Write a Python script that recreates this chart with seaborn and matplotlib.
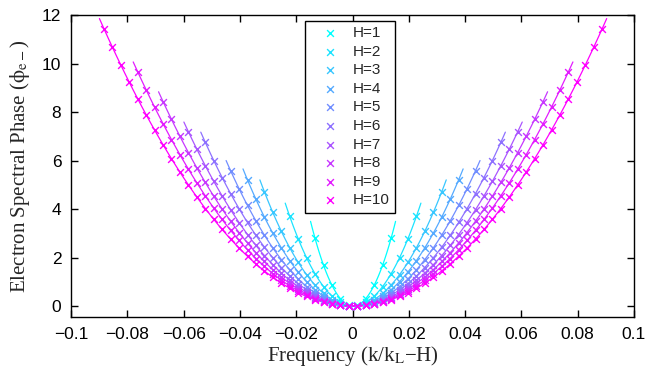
import numpy as np
import pandas as pd
import matplotlib
matplotlib.use("Agg")
import matplotlib.pyplot as plt
import seaborn as sns

# ---------------------------------------------------------------
# data
# ---------------------------------------------------------------
HARMONICS = [1, 2, 3, 4, 5, 6, 7, 8, 9, 10]

# common frequency grid (k/kL - H); every harmonic uses a centred slice of it
X_GRID = [-0.0883, -0.0853, -0.0823, -0.0793, -0.0763, -0.0733, -0.0703, -0.0673, -0.0643, -0.0613,
          -0.0583, -0.0553, -0.0523, -0.0493, -0.0463, -0.0433, -0.0403, -0.0373, -0.0343, -0.0313,
          -0.0283, -0.0253, -0.0223, -0.0193, -0.0163, -0.0133, -0.0103, -0.0073, -0.0043, -0.0013,
          0.0017, 0.0047, 0.0077, 0.0107, 0.0137, 0.0167, 0.0197, 0.0227, 0.0257, 0.0287,
          0.0317, 0.0347, 0.0377, 0.0407, 0.0437, 0.0467, 0.0497, 0.0527, 0.0557, 0.0587,
          0.0617, 0.0647, 0.0677, 0.0707, 0.0737, 0.0767, 0.0797, 0.0827, 0.0857, 0.0887]

Y_H1 = [2.79, 1.69, 0.86, 0.31, 0.03, 0.03, 0.31, 0.86, 1.69, 2.79]
Y_H2 = [3.70, 2.78, 1.99, 1.33, 0.80, 0.41, 0.15, 0.02,
        0.02, 0.15, 0.41, 0.80, 1.33, 1.99, 2.78, 3.70]
Y_H3 = [4.71, 3.86, 3.09, 2.40, 1.81, 1.29, 0.87, 0.52, 0.27, 0.10, 0.01,
        0.01, 0.10, 0.27, 0.52, 0.87, 1.29, 1.81, 2.40, 3.09, 3.86, 4.71]
Y_H4 = [5.20, 4.40, 3.67, 3.01, 2.41, 1.87, 1.41, 1.01, 0.67, 0.41, 0.21, 0.07, 0.01,
        0.01, 0.07, 0.21, 0.41, 0.67, 1.01, 1.41, 1.87, 2.41, 3.01, 3.67, 4.40, 5.20]
Y_H5 = [5.58, 4.84, 4.15, 3.51, 2.93, 2.40, 1.92, 1.49, 1.12, 0.80, 0.54, 0.33, 0.17, 0.06, 0.01,
        0.01, 0.06, 0.17, 0.33, 0.54, 0.80, 1.12, 1.49, 1.92, 2.40, 2.93, 3.51, 4.15, 4.84, 5.58]
Y_H6 = [6.75, 6.00, 5.30, 4.64, 4.02, 3.45, 2.92, 2.43, 1.99, 1.59, 1.24, 0.93, 0.67, 0.45,
        0.27, 0.14, 0.05, 0.01,
        0.01, 0.05, 0.14, 0.27, 0.45, 0.67, 0.93, 1.24, 1.59, 1.99, 2.43, 2.92, 3.45, 4.02,
        4.64, 5.30, 6.00, 6.75]
Y_H7 = [7.19, 6.47, 5.79, 5.15, 4.54, 3.97, 3.44, 2.95, 2.50, 2.08, 1.71, 1.37, 1.06, 0.80,
        0.57, 0.38, 0.23, 0.12, 0.04, 0.00,
        0.00, 0.04, 0.12, 0.23, 0.38, 0.57, 0.80, 1.06, 1.37, 1.71, 2.08, 2.50, 2.95, 3.44,
        3.97, 4.54, 5.15, 5.79, 6.47, 7.19]
Y_H8 = [8.43, 7.70, 7.00, 6.33, 5.70, 5.10, 4.53, 4.00, 3.50, 3.03, 2.60, 2.20, 1.84, 1.50,
        1.20, 0.94, 0.70, 0.50, 0.34, 0.20, 0.10, 0.04, 0.00,
        0.00, 0.04, 0.10, 0.20, 0.34, 0.50, 0.70, 0.94, 1.20, 1.50, 1.84, 2.20, 2.60, 3.03,
        3.50, 4.00, 4.53, 5.10, 5.70, 6.33, 7.00, 7.70, 8.43]
Y_H9 = [9.66, 8.91, 8.20, 7.52, 6.86, 6.24, 5.65, 5.08, 4.55, 4.04, 3.57, 3.12, 2.71, 2.32,
        1.96, 1.64, 1.34, 1.07, 0.84, 0.63, 0.45, 0.30, 0.18, 0.09, 0.03, 0.00,
        0.00, 0.03, 0.09, 0.18, 0.30, 0.45, 0.63, 0.84, 1.07, 1.34, 1.64, 1.96, 2.32, 2.71,
        3.12, 3.57, 4.04, 4.55, 5.08, 5.65, 6.24, 6.86, 7.52, 8.20, 8.91, 9.66]
Y_H10 = [11.44, 10.67, 9.94, 9.23, 8.54, 7.89, 7.26, 6.65, 6.07, 5.52, 5.00, 4.50, 4.02, 3.58,
         3.16, 2.76, 2.39, 2.05, 1.74, 1.45, 1.19, 0.95, 0.74, 0.56, 0.40, 0.27, 0.16, 0.08,
         0.03, 0.00,
         0.00, 0.03, 0.08, 0.16, 0.27, 0.40, 0.56, 0.74, 0.95, 1.19, 1.45, 1.74, 2.05, 2.39,
         2.76, 3.16, 3.58, 4.02, 4.50, 5.00, 5.52, 6.07, 6.65, 7.26, 7.89, 8.54, 9.23, 9.94,
         10.67, 11.44]

Y_ALL = [Y_H1, Y_H2, Y_H3, Y_H4, Y_H5, Y_H6, Y_H7, Y_H8, Y_H9, Y_H10]

XTICKS = [-0.1, -0.08, -0.06, -0.04, -0.02, 0, 0.02, 0.04, 0.06, 0.08, 0.1]
XTICK_LABELS = ["\u22120.1", "\u22120.08", "\u22120.06", "\u22120.04", "\u22120.02", "0",
                "0.02", "0.04", "0.06", "0.08", "0.1"]
YTICKS = [0, 2, 4, 6, 8, 10, 12]

# ---------------------------------------------------------------
# style
# ---------------------------------------------------------------
sns.set_theme(style="ticks")
plt.rcParams["font.family"] = ["Liberation Sans", "DejaVu Sans"]
plt.rcParams["mathtext.fontset"] = "stix"
plt.rcParams["axes.linewidth"] = 1.0
plt.rcParams["axes.edgecolor"] = "black"

colors = plt.get_cmap("cool")(np.linspace(0, 1, len(HARMONICS)))

fig = plt.figure(figsize=(6.49, 3.71), dpi=100)
ax = fig.add_axes([71 / 649, 1 - 317 / 371, (634 - 71) / 649, (317 - 15) / 371])

for h, ys, col in zip(HARMONICS, Y_ALL, colors):
    n = len(ys) // 2
    xs = np.array(X_GRID[30 - n:30 + n])
    ys = np.array(ys)
    # smooth 2nd-order fit through the points, running half a step past the ends
    coef = np.polyfit(xs, ys, 2)
    xf = np.linspace(xs.min() - 0.0016, xs.max() + 0.0016, 120)
    fit = pd.DataFrame({"x": xf, "y": np.polyval(coef, xf)})
    sns.lineplot(data=fit, x="x", y="y", color=col, linewidth=0.9, ax=ax,
                 legend=False, sort=False, estimator=None)
    pts = pd.DataFrame({"x": xs, "y": ys})
    sns.scatterplot(data=pts, x="x", y="y", color=col, marker="x", s=24,
                    linewidth=1.0, ax=ax, label=f"H={h}", zorder=3)

ax.set_xlim(-0.1, 0.1)
ax.set_ylim(-0.45, 12)
ax.set_xticks(XTICKS)
ax.set_xticklabels(XTICK_LABELS)
ax.set_yticks(YTICKS)
ax.tick_params(direction="in", length=5, width=1, top=True, right=True,
               labelsize=12.5, pad=7, colors="black")

ax.set_xlabel("Frequency (k/k$_{\\mathrm{L}}$\u2212H)", fontsize=15,
              family="Liberation Serif", labelpad=2)
ax.set_ylabel("Electron Spectral Phase ($\\mathrm{\\phi}_{\\mathrm{e-}}$)", fontsize=15,
              family="Liberation Serif", labelpad=7)

leg = ax.legend(loc="upper left", bbox_to_anchor=(305 / 649, 1 - 20.7 / 371),
                bbox_transform=fig.transFigure, borderaxespad=0, fontsize=11,
                frameon=True, fancybox=False, edgecolor="black", framealpha=1,
                handlelength=2.6, handletextpad=0.2, borderpad=0.35,
                labelspacing=0.3, scatterpoints=1)
leg.get_frame().set_linewidth(1.0)

fig.savefig("out.png", dpi=100)
